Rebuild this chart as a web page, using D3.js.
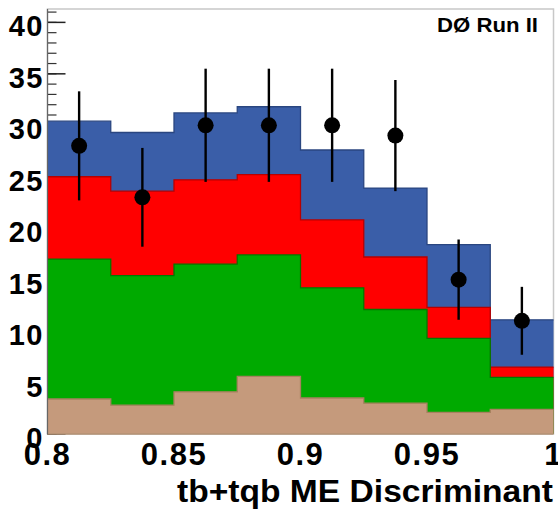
<!DOCTYPE html>
<html>
<head>
<meta charset="utf-8">
<script src="https://cdn.jsdelivr.net/npm/d3@7"></script>
<style>
  body { margin: 0; background: #fff; }
  text { font-family: 'Liberation Sans', Arial, Helvetica, sans-serif; font-weight: bold; }
</style>
</head>
<body>
<div id="chart"></div>
<script>
// bin edges of the discriminant histogram
const binEdges = [0.8, 0.825, 0.85, 0.875, 0.9, 0.925, 0.95, 0.975, 1.0]

// stacked background components (height of each layer per bin)
const tanVals = [3.4, 2.8, 4.1, 5.6, 3.5, 3.0, 2.1, 2.4]
const greenVals = [13.6, 12.6, 12.4, 11.8, 10.7, 9.1, 7.2, 3.1]
const redVals = [8.0, 8.2, 8.2, 7.8, 6.6, 5.1, 3.0, 1.0]
const blueVals = [5.4, 5.7, 6.5, 6.6, 6.8, 6.7, 6.1, 4.6]

// observed data with error bars
const dataCounts = [28, 23, 30, 30, 30, 29, 15, 11]
const dataErrors = [5.3, 4.8, 5.5, 5.5, 5.5, 5.4, 3.9, 3.3]

const xTicks = [0.8, 0.85, 0.9, 0.95, 1.0]
const yMajorTicks = [0, 5, 10, 15, 20, 25, 30, 35, 40]
const yMinorTicks = d3.range(0, 42)

const layers = [
  { key: 'tan', vals: tanVals, fill: '#c59a7c', stroke: '#a8805f' },
  { key: 'green', vals: greenVals, fill: '#00aa00', stroke: '#007a00' },
  { key: 'red', vals: redVals, fill: '#ff0000', stroke: '#b80000' },
  { key: 'blue', vals: blueVals, fill: '#3a5ea8', stroke: '#2a4680' },
]

const width = 558
const height = 509
const margin = { top: 9, right: 4.5, bottom: 75, left: 47.5 }

const svg = d3.select('#chart').append('svg').attr('width', width).attr('height', height)

const x = d3.scaleLinear().domain([0.8, 1.0]).range([margin.left, width - margin.right])
const y = d3.scaleLinear().domain([0, 41.3]).range([height - margin.bottom, margin.top])

// frame
svg.append('rect')
  .attr('x', x(0.8)).attr('y', y(41.3))
  .attr('width', x(1.0) - x(0.8)).attr('height', y(0) - y(41.3))
  .attr('fill', '#fff').attr('stroke', '#c8c8c8').attr('stroke-width', 1.5)

// y ticks (drawn inside, under the histograms)
const tickG = svg.append('g')
tickG.selectAll('line.minor').data(yMinorTicks).join('line')
  .attr('class', 'minor')
  .attr('x1', x(0.8)).attr('x2', x(0.8) + 9)
  .attr('y1', (d) => y(d)).attr('y2', (d) => y(d))
  .attr('stroke', '#333').attr('stroke-width', 1.2)
tickG.selectAll('line.major').data(yMajorTicks).join('line')
  .attr('class', 'major')
  .attr('x1', x(0.8)).attr('x2', x(0.8) + 18)
  .attr('y1', (d) => y(d)).attr('y2', (d) => y(d))
  .attr('stroke', '#222').attr('stroke-width', 1.5)

// stacked histograms: draw cumulative totals from top-most to bottom
const stackData = binEdges.slice(0, -1).map((e, i) => {
  const row = { x0: e }
  layers.forEach((l) => { row[l.key] = l.vals[i] })
  return row
})
const stacked = d3.stack().keys(layers.map((l) => l.key))(stackData)

function stepPoints(series) {
  const pts = series.map((d, i) => ({ x: binEdges[i], top: d[1] }))
  pts.push({ x: binEdges[binEdges.length - 1], top: series[series.length - 1][1] })
  return pts
}

const area = d3.area()
  .curve(d3.curveStepAfter)
  .x((d) => x(d.x))
  .y0(y(0))
  .y1((d) => y(d.top))

const topLine = d3.line()
  .curve(d3.curveStepAfter)
  .x((d) => x(d.x))
  .y((d) => y(d.top))

const histG = svg.append('g')
const order = stacked.slice().reverse()
order.forEach((s) => {
  const layer = layers.find((l) => l.key === s.key)
  const pts = stepPoints(s)
  histG.append('path').attr('d', area(pts)).attr('fill', layer.fill)
  histG.append('path').attr('d', topLine(pts)).attr('fill', 'none')
    .attr('stroke', layer.stroke).attr('stroke-width', 1.3)
})

// bottom edge of the histogram
histG.append('line')
  .attr('x1', x(0.8)).attr('x2', x(1.0)).attr('y1', y(0)).attr('y2', y(0))
  .attr('stroke', '#b39274').attr('stroke-width', 1.5)

// left axis line
svg.append('line')
  .attr('x1', x(0.8)).attr('x2', x(0.8)).attr('y1', y(0)).attr('y2', y(41.3))
  .attr('stroke', '#666').attr('stroke-width', 1.2)

// data points
const pts = dataCounts.map((c, i) => ({
  cx: (binEdges[i] + binEdges[i + 1]) / 2, v: c, e: dataErrors[i],
}))
const dataG = svg.append('g')
dataG.selectAll('line').data(pts).join('line')
  .attr('x1', (d) => x(d.cx)).attr('x2', (d) => x(d.cx))
  .attr('y1', (d) => y(d.v - d.e)).attr('y2', (d) => y(d.v + d.e))
  .attr('stroke', '#000').attr('stroke-width', 2.4)
dataG.selectAll('circle').data(pts).join('circle')
  .attr('cx', (d) => x(d.cx)).attr('cy', (d) => y(d.v))
  .attr('r', 8).attr('fill', '#000')

// tick labels
svg.append('g').selectAll('text').data(xTicks).join('text')
  .attr('x', (d) => x(d)).attr('y', 465)
  .attr('text-anchor', 'middle')
  .style('font-size', '31px')
  .style('letter-spacing', '1.5px')
  .text((d) => d3.format('')(+d.toFixed(2)))

svg.append('g').selectAll('text').data(yMajorTicks).join('text')
  .attr('x', 44).attr('y', (d) => y(d) + 14)
  .attr('text-anchor', 'end')
  .style('font-size', '29px')
  .style('letter-spacing', '1.5px')
  .text((d) => d)

// axis title
svg.append('text')
  .attr('x', 177).attr('y', 502)
  .attr('textLength', 376).attr('lengthAdjust', 'spacingAndGlyphs')
  .style('font-size', '31px')
  .text('tb+tqb ME Discriminant')

// experiment label
svg.append('text')
  .attr('x', 437).attr('y', 32)
  .attr('textLength', 101).attr('lengthAdjust', 'spacingAndGlyphs')
  .style('font-size', '20px')
  .text('DØ Run II')
</script>
</body>
</html>
